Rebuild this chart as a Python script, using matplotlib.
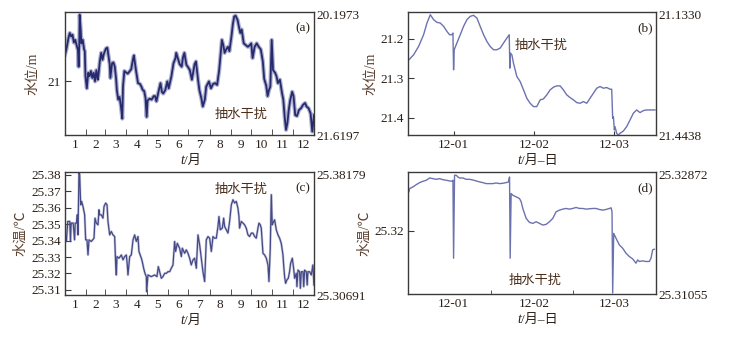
import matplotlib
matplotlib.use("Agg")
import matplotlib.pyplot as plt
import numpy as np

plt.rcParams['font.family'] = ['Liberation Serif', 'Noto Sans CJK SC', 'DejaVu Sans']

# ---------------- data ----------------
# (a) yearly water level (m, depth), day of year
a_day = [0, 2, 5, 7, 9, 11, 13, 15, 17, 19, 20, 21, 21.5, 23, 24, 26, 28, 29, 30, 32, 34, 36, 38, 40, 42, 44,
         46, 48, 49, 51, 53, 55, 57, 60, 62, 64, 65.5, 66.5, 69, 71, 73, 75, 76, 78, 80, 82, 84, 85, 87, 90, 92,
         95, 97, 100, 101, 104, 107, 110, 112, 114, 116, 118, 119.7, 121, 124, 127, 130, 132, 134, 137, 140,
         142, 144, 147, 150, 152, 156, 159, 162, 163, 166, 168, 171, 173, 175, 178, 180, 183, 186, 190, 192,
         195, 197, 200, 202, 205, 207, 211, 214, 217, 220, 223, 226, 228, 230, 232, 234, 237, 239, 241, 244,
         246, 248, 250, 253, 255, 257, 259, 262, 265, 268, 271, 273, 275, 278, 281, 284, 287, 290, 292, 295,
         297, 299, 301, 303, 305, 308, 310, 312, 315, 318, 320, 322, 324, 326, 328, 330, 333, 335, 337.5,
         340, 343, 346, 349, 352, 354, 357, 360, 362.5, 365]
a_level = [20.69, 20.63, 20.50, 20.44, 20.48, 20.46, 20.55, 20.52, 20.58, 20.64, 20.83, 20.55, 20.23, 20.40,
           20.56, 20.52, 20.63, 20.65, 20.94, 21.08, 20.90, 20.94, 20.88, 20.96, 20.90, 21.00, 20.87, 20.98,
           20.93, 20.77, 20.67, 20.75, 20.68, 20.62, 20.61, 20.72, 20.80, 20.96, 20.79, 20.78, 20.83, 20.98,
           21.10, 21.21, 21.18, 21.29, 21.43, 21.06, 20.88, 20.90, 20.91, 20.88, 20.86, 20.73, 20.70, 20.87,
           21.02, 21.03, 21.06, 21.10, 21.11, 21.19, 21.41, 21.22, 21.20, 21.21, 21.17, 21.17, 21.23, 21.12,
           21.02, 21.12, 21.14, 21.10, 21.00, 21.08, 20.94, 20.79, 20.73, 20.67, 20.75, 20.80, 20.83, 20.72,
           20.67, 20.81, 20.83, 20.87, 20.98, 20.80, 20.77, 20.98, 21.10, 21.20, 21.29, 21.21, 21.06, 21.00,
           21.08, 21.03, 21.02, 21.04, 20.87, 20.69, 20.52, 20.58, 20.67, 20.62, 20.60, 20.65, 20.48, 20.34,
           20.25, 20.24, 20.29, 20.37, 20.44, 20.40, 20.56, 20.58, 20.60, 20.58, 20.56, 20.73, 20.60, 20.56,
           20.60, 20.63, 20.77, 20.97, 21.05, 21.17, 21.10, 21.06, 20.52, 20.87, 20.90, 20.94, 21.02, 20.98,
           21.13, 21.21, 21.41, 21.56, 21.48, 21.33, 21.22, 21.12, 21.17, 21.39, 21.40, 21.33, 21.31, 21.27,
           21.25, 21.29, 21.31, 21.37, 21.58, 21.39]

# (c) yearly water temperature (degC)
c_day = [1, 2, 4, 7, 8, 9, 12, 14, 15, 17, 18, 19, 20.5, 21.5, 23, 24.4, 26.4, 28.8, 30.3, 32.2, 33.7, 35.2,
         38.6, 42.5, 44, 45.9, 48.4, 49.8, 50.8, 53.2, 55.7, 57.2, 59.6, 61.6, 63, 65.5, 67.9, 70.3, 72.8,
         74.3, 75.2, 76.2, 79.1, 82.6, 85, 87.4, 89.9, 91.3, 92.3, 94.8, 97.2, 99.7, 102.1, 104.5, 107, 108.4,
         111.9, 113.3, 115.3, 117.2, 119.2, 119.7, 121.6, 126.5, 131.4, 134.8, 136.8, 138.7, 141.2, 143.6,
         146.1, 148.5, 150.9, 153.4, 155.8, 158.3, 160.7, 162.2, 164.6, 168, 170.5, 172, 175.4, 177.8, 180.3,
         182.7, 185.1, 187.6, 190, 192.5, 194.9, 197.4, 199.8, 202.2, 204.7, 207.1, 209.6, 212, 214.5, 216.9,
         219.3, 221.8, 224.2, 225.7, 227.6, 230.6, 232.6, 234, 236.5, 238.9, 241.3, 243.8, 246.2, 248.6,
         251.1, 253.5, 255, 255.9, 258.4, 260.9, 263.3, 265.7, 268.2, 270.6, 273.1, 275.5, 278, 280.4, 282.8,
         284.3, 286.3, 287.7, 290.2, 292.6, 295.1, 297.5, 299, 300.9, 302.4, 303.8, 304.8, 307.3, 309.7,
         312.2, 314.6, 317, 319.5, 320.5, 321.9, 323.4, 325.3, 327.3, 329.2, 330.7, 333.2, 335.1, 336.6, 339,
         340, 341.5, 343.9, 345, 346.4, 348.8, 350, 351.2, 353.7, 355, 356.1, 358.6, 361, 363.4, 364.9]
c_temp = [25.3425, 25.3395, 25.3517, 25.3517, 25.3395, 25.3507, 25.3507, 25.3405, 25.3507, 25.3507, 25.3557,
          25.3435, 25.3812, 25.3802, 25.3618, 25.3639, 25.3608, 25.3557, 25.3405, 25.3405, 25.3313, 25.3405,
          25.3395, 25.3415, 25.3537, 25.3507, 25.3496, 25.3588, 25.3557, 25.3557, 25.3537, 25.3608, 25.3629,
          25.3618, 25.3517, 25.3435, 25.3456, 25.3435, 25.3425, 25.3252, 25.3191, 25.3303, 25.3293, 25.3313,
          25.3283, 25.3303, 25.3313, 25.3252, 25.3191, 25.3303, 25.3313, 25.3405, 25.3435, 25.3395, 25.3425,
          25.3334, 25.3293, 25.3272, 25.3232, 25.3201, 25.3181, 25.3089, 25.3191, 25.3181, 25.3191, 25.3181,
          25.3242, 25.3211, 25.3171, 25.3181, 25.3201, 25.3201, 25.3211, 25.3211, 25.3232, 25.3252, 25.3395,
          25.3334, 25.3384, 25.3354, 25.3303, 25.3354, 25.3323, 25.3344, 25.3323, 25.3293, 25.3252, 25.3283,
          25.3293, 25.3232, 25.3435, 25.3374, 25.3293, 25.3211, 25.3151, 25.3405, 25.3425, 25.3415, 25.3334,
          25.3425, 25.3415, 25.3415, 25.3486, 25.3547, 25.3466, 25.3476, 25.3537, 25.3486, 25.3466, 25.3446,
          25.3517, 25.3618, 25.3649, 25.3629, 25.3639, 25.3598, 25.3547, 25.3476, 25.3517, 25.3507, 25.3496,
          25.3476, 25.3435, 25.3425, 25.3446, 25.3446, 25.3425, 25.3415, 25.3476, 25.3507, 25.3496, 25.3476,
          25.3323, 25.3313, 25.3293, 25.3252, 25.3151, 25.3354, 25.3680, 25.3496, 25.3507, 25.3527, 25.3466,
          25.3435, 25.3415, 25.3384, 25.3313, 25.3252, 25.3181, 25.3140, 25.3161, 25.3171, 25.3211, 25.3262,
          25.3293, 25.3232, 25.3171, 25.3201, 25.3120, 25.3221, 25.3211, 25.3110, 25.3211, 25.3211, 25.3120,
          25.3221, 25.3211, 25.3130, 25.3211, 25.3211, 25.3191, 25.3252, 25.3130]

# (b) three-day water level, days relative to 12-01 00:00
b_t = [-0.567, -0.497, -0.435, -0.373, -0.331, -0.290, -0.248, -0.207, -0.166, -0.124, -0.083, -0.050, -0.021,
       -0.008, 0.0, 0.008, 0.041, 0.083, 0.124, 0.166, 0.207, 0.248, 0.290, 0.331, 0.373, 0.414, 0.455, 0.497,
       0.538, 0.580, 0.621, 0.663, 0.692, 0.700, 0.708, 0.725, 0.745, 0.787, 0.828, 0.870, 0.911, 0.952, 0.994,
       1.035, 1.077, 1.118, 1.159, 1.201, 1.242, 1.284, 1.325, 1.366, 1.408, 1.449, 1.491, 1.532, 1.573, 1.615,
       1.656, 1.698, 1.739, 1.781, 1.822, 1.863, 1.905, 1.946, 1.967, 1.979, 1.988, 2.0, 2.008, 2.029, 2.050,
       2.070, 2.112, 2.153, 2.195, 2.236, 2.277, 2.319, 2.360, 2.402, 2.443, 2.484, 2.505]
b_level = [21.2563, 21.2411, 21.2200, 21.1904, 21.1609, 21.1398, 21.1524, 21.1592, 21.1609, 21.1693, 21.1820,
           21.1904, 21.1904, 21.1862, 21.2791, 21.2284, 21.2115, 21.1904, 21.1693, 21.1524, 21.1440, 21.1414,
           21.1482, 21.1693, 21.1904, 21.2073, 21.2200, 21.2284, 21.2284, 21.2242, 21.2115, 21.1989, 21.1904,
           21.2749, 21.2369, 21.2411, 21.2622, 21.2960, 21.3087, 21.3298, 21.3509, 21.3636, 21.3720, 21.3720,
           21.3551, 21.3526, 21.3425, 21.3298, 21.3230, 21.3197, 21.3197, 21.3298, 21.3425, 21.3492, 21.3551,
           21.3619, 21.3636, 21.3594, 21.3636, 21.3509, 21.3382, 21.3256, 21.3213, 21.3256, 21.3239, 21.3281,
           21.3281, 21.4016, 21.3974, 21.4311, 21.4227, 21.4396, 21.4438, 21.4396, 21.4337, 21.4227, 21.4058,
           21.3889, 21.3805, 21.3872, 21.3822, 21.3805, 21.3805, 21.3805, 21.3805]

# (d) three-day water temperature
d_t = [-0.567, -0.555, -0.547, -0.505, -0.464, -0.422, -0.381, -0.340, -0.298, -0.257, -0.215, -0.174, -0.133,
       -0.091, -0.050, -0.017, -0.008, 0.0, 0.012, 0.033, 0.054, 0.075, 0.116, 0.157, 0.199, 0.240, 0.282,
       0.323, 0.364, 0.406, 0.447, 0.489, 0.530, 0.571, 0.613, 0.654, 0.683, 0.696, 0.704, 0.716, 0.737, 0.778,
       0.820, 0.841, 0.861, 0.882, 0.903, 0.944, 0.986, 1.027, 1.068, 1.110, 1.151, 1.193, 1.234, 1.275, 1.317,
       1.358, 1.400, 1.441, 1.482, 1.524, 1.565, 1.606, 1.648, 1.689, 1.731, 1.772, 1.814, 1.855, 1.896, 1.938,
       1.959, 1.971, 1.979, 1.992, 2.021, 2.062, 2.104, 2.145, 2.186, 2.228, 2.269, 2.290, 2.311, 2.352, 2.393,
       2.435, 2.456, 2.476, 2.497]
d_temp = [25.32625, 25.32576, 25.32625, 25.32650, 25.32684, 25.32714, 25.32734, 25.32749, 25.32783, 25.32773,
          25.32763, 25.32773, 25.32758, 25.32749, 25.32739, 25.32734, 25.32749, 25.31588, 25.32823, 25.32823,
          25.32798, 25.32783, 25.32783, 25.32763, 25.32763, 25.32753, 25.32739, 25.32724, 25.32714, 25.32699,
          25.32699, 25.32699, 25.32709, 25.32699, 25.32704, 25.32714, 25.32724, 25.32798, 25.31588, 25.32551,
          25.32526, 25.32502, 25.32477, 25.32428, 25.32329, 25.32255, 25.32181, 25.32121, 25.32107, 25.32131,
          25.32107, 25.32082, 25.32092, 25.32131, 25.32181, 25.32279, 25.32304, 25.32319, 25.32329, 25.32319,
          25.32329, 25.32344, 25.32329, 25.32329, 25.32319, 25.32324, 25.32329, 25.32329, 25.32314, 25.32304,
          25.32314, 25.32329, 25.32339, 25.32279, 25.31070, 25.31958, 25.31884, 25.31786, 25.31736, 25.31662,
          25.31613, 25.31578, 25.31514, 25.31563, 25.31539, 25.31549, 25.31539, 25.31539, 25.31588, 25.31712,
          25.31722]

month_labels = ['1', '2', '3', '4', '5', '6', '7', '8', '9', '10', '11', '12']
month_len = [31, 28, 31, 30, 31, 30, 31, 31, 30, 31, 30, 31]
day_labels = ['12-01', '12-02', '12-03']
day_ticks = [0, 1, 2]

a_lim = (20.1973, 21.6197)
b_lim = (21.1330, 21.4438)
c_lim = (25.30691, 25.38179)
d_lim = (25.31055, 25.32872)
a_lim_txt = ('20.1973', '21.6197')
b_lim_txt = ('21.1330', '21.4438')
c_lim_txt = ('25.38179', '25.30691')
d_lim_txt = ('25.32872', '25.31055')
a_yticks = [21]
b_yticks = [21.2, 21.3, 21.4]
c_yticks = [25.31, 25.32, 25.33, 25.34, 25.35, 25.36, 25.37, 25.38]
d_yticks = [25.32]

# ---------------- figure ----------------
W, H = 730, 337
fig = plt.figure(figsize=(W / 100, H / 100), dpi=100)

def rect(l, t, r, b):
    return [l / W, 1 - b / H, (r - l) / W, (b - t) / H]

ax_a = fig.add_axes(rect(65, 12, 314, 135))
ax_b = fig.add_axes(rect(408, 12, 656, 135))
ax_c = fig.add_axes(rect(65, 172, 314, 295))
ax_d = fig.add_axes(rect(408, 172, 656, 294))

FRAME = '#3a3a3a'
TXT = '#2a2018'
LAB = '#5a3f2e'
NOTE = '#4a2e1a'
CJK = ['Noto Sans CJK SC', 'DejaVu Sans']
SER = ['Liberation Serif', 'Noto Sans CJK SC', 'DejaVu Sans']

for ax in (ax_a, ax_b, ax_c, ax_d):
    for s in ax.spines.values():
        s.set_color(FRAME)
        s.set_linewidth(1.0)
    ax.tick_params(axis='both', which='both', direction='in', colors=FRAME, labelcolor=TXT,
                   labelsize=9, right=False, top=False, pad=3)
    ax.tick_params(axis='y', which='major', length=4)

# month axes
cum = np.cumsum([0] + month_len)
mid = [(cum[i] + cum[i + 1]) / 2 for i in range(12)]
for ax in (ax_a, ax_c):
    ax.set_xlim(0, 365)
    ax.set_xticks(mid)
    ax.set_xticklabels(month_labels, family=SER, fontsize=9.5, color=TXT)
    ax.tick_params(axis='x', which='major', length=0)
    ax.set_xticks(cum[1:-1], minor=True)
    ax.tick_params(axis='x', which='minor', length=4)

for ax in (ax_b, ax_d):
    ax.set_xlim(-0.567, 2.518)
    ax.set_xticks(day_ticks)
    ax.set_xticklabels(day_labels, family=SER, fontsize=9.5, color=TXT)
ax_b.tick_params(axis='x', which='major', length=3)
ax_d.tick_params(axis='x', which='major', length=0)
ax_d.set_xticks([0.46, 1.48], minor=True)
ax_d.tick_params(axis='x', which='minor', length=3)

# lines
ax_a.plot(a_day, a_level, color='#4a4f95', lw=3.0, alpha=0.45)
ax_a.plot(a_day, a_level, color='#262a6c', lw=1.3)
ax_c.plot(c_day, c_temp, color='#6a6ea6', lw=1.8, alpha=0.35)
ax_c.plot(c_day, c_temp, color='#454a86', lw=0.9)
ax_b.plot(b_t, b_level, color='#6c72b0', lw=1.0)
ax_d.plot(d_t, d_temp, color='#6c72b0', lw=1.0)

ax_a.set_ylim(a_lim[1], a_lim[0])
ax_b.set_ylim(b_lim[1], b_lim[0])
ax_c.set_ylim(*c_lim)
ax_d.set_ylim(*d_lim)
ax_a.set_yticks(a_yticks)
ax_a.set_yticklabels(['21'], family=SER, fontsize=9.5, color=TXT)
ax_b.set_yticks(b_yticks)
ax_b.set_yticklabels([f'{v:.1f}' for v in b_yticks], family=SER, fontsize=9.5, color=TXT)
ax_c.set_yticks(c_yticks)
ax_c.set_yticklabels([f'{v:.2f}' for v in c_yticks], family=SER, fontsize=9.5, color=TXT)
ax_d.set_yticks(d_yticks)
ax_d.set_yticklabels(['25.32'], family=SER, fontsize=9.5, color=TXT)

# right-hand limit labels
for ax, (top, bot) in ((ax_a, a_lim_txt), (ax_b, b_lim_txt), (ax_c, c_lim_txt), (ax_d, d_lim_txt)):
    ax.text(1.008, 0.965, top, transform=ax.transAxes, ha='left', va='center',
            family=SER, fontsize=9.5, color=TXT)
    ax.text(1.008, -0.02, bot, transform=ax.transAxes, ha='left', va='center',
            family=SER, fontsize=9.5, color=TXT)

# panel letters
for ax, s in ((ax_a, '(a)'), (ax_b, '(b)'), (ax_c, '(c)'), (ax_d, '(d)')):
    ax.text(0.955, 0.87, s, transform=ax.transAxes, ha='center', va='center',
            family=SER, fontsize=9.5, color=TXT)

# annotations
ax_a.text(0.60, 0.17, '抽水干扰', transform=ax_a.transAxes, ha='left', va='center',
          family=CJK, fontsize=9.5, color=NOTE)
ax_b.text(0.43, 0.73, '抽水干扰', transform=ax_b.transAxes, ha='left', va='center',
          family=CJK, fontsize=9.5, color=NOTE)
ax_c.text(0.60, 0.86, '抽水干扰', transform=ax_c.transAxes, ha='left', va='center',
          family=CJK, fontsize=9.5, color=NOTE)
ax_d.text(0.405, 0.11, '抽水干扰', transform=ax_d.transAxes, ha='left', va='center',
          family=CJK, fontsize=9.5, color=NOTE)

# y labels
ax_a.set_ylabel('水位/m', family=SER, fontsize=10, color=LAB, labelpad=6)
ax_b.set_ylabel('水位/m', family=SER, fontsize=10, color=LAB, labelpad=2)
ax_c.set_ylabel('水温/℃', family=SER, fontsize=10, color=LAB, labelpad=3)
ax_d.set_ylabel('水温/℃', family=SER, fontsize=10, color=LAB, labelpad=2)

# x labels with italic t
def xlab(ax, split, rest):
    ax.text(split, -0.21, 't', transform=ax.transAxes, ha='right', va='center',
            family=SER, style='italic', fontsize=10, color=TXT)
    ax.text(split, -0.21, rest, transform=ax.transAxes, ha='left', va='center',
            family=SER, fontsize=9.5, color=TXT)

xlab(ax_a, 0.478, '/月')
xlab(ax_c, 0.478, '/月')
xlab(ax_b, 0.456, '/月–日')
xlab(ax_d, 0.456, '/月–日')

fig.savefig('out.png', dpi=100, facecolor='white')
